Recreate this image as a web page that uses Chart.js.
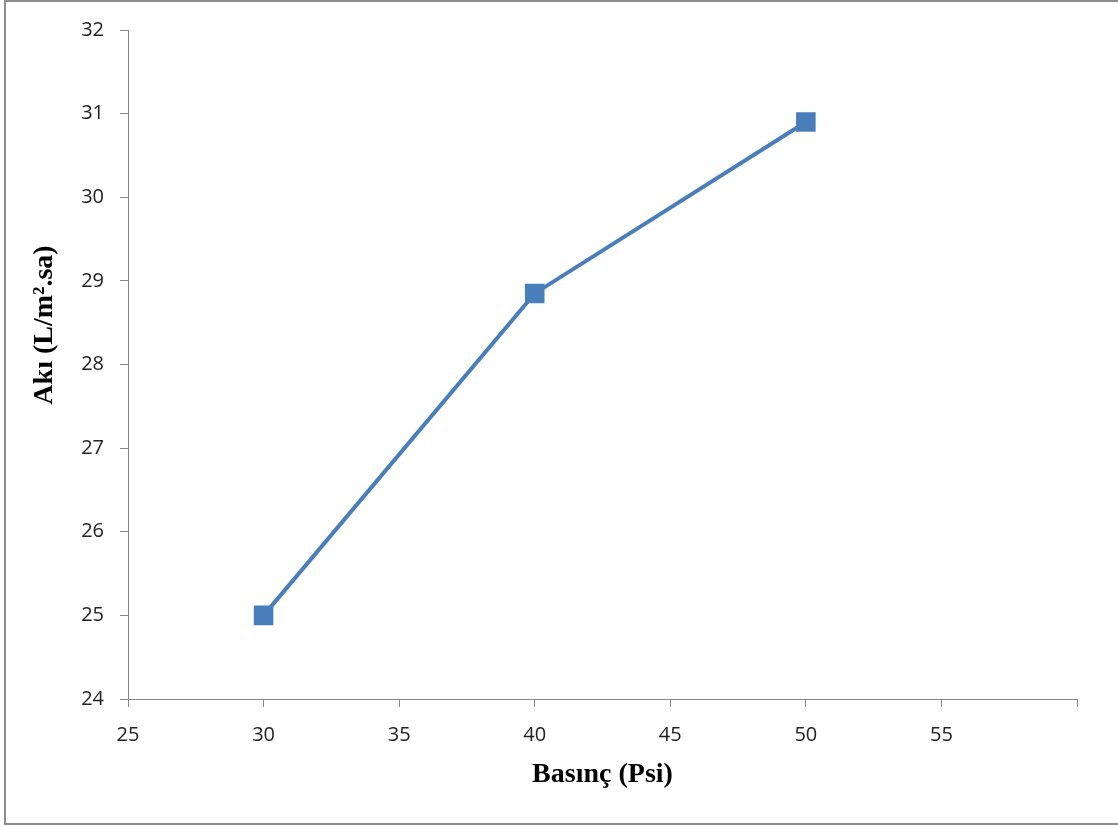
<!DOCTYPE html>
<html>
<head>
<meta charset="utf-8">
<script src="https://cdn.jsdelivr.net/npm/chart.js"></script>
<style>
  html, body { margin: 0; padding: 0; background: #fff; }
  #wrap { position: relative; width: 1118px; height: 827px; }
  #frame { position: absolute; left: 4px; top: 0; width: 1112px; height: 821px; border: 2px solid #8c8c8c; box-sizing: content-box; pointer-events: none; }
  canvas { position: absolute; left: 0; top: 0; }
</style>
</head>
<body>
<div id="wrap">
  <canvas id="c" width="1118" height="827"></canvas>
  <div id="frame"></div>
</div>
<script>
// pressure (psi) vs flux (L/m2.h)
const pressure = [30, 40, 50];
const flux = [25.0, 28.85, 30.9];
const xTitle = "Basınç (Psi)";
const yTitle = "Akı (L/m².sa)";

const lineColor = "#4a7ebb";

// axis titles drawn by hand so they sit where the original has them
const axisTitles = {
  id: "axisTitles",
  afterDraw(chart) {
    const { ctx, chartArea } = chart;
    ctx.save();
    ctx.fillStyle = "#000";
    ctx.font = "bold 28px 'Liberation Serif'";
    ctx.textAlign = "center";
    ctx.textBaseline = "middle";
    ctx.fillText(xTitle, (chartArea.left + chartArea.right) / 2, 775);
    ctx.translate(45, 325);
    ctx.rotate(-Math.PI / 2);
    ctx.fillText(yTitle, 0, 0);
    ctx.restore();
  }
};

new Chart(document.getElementById("c"), {
  type: "line",
  data: {
    datasets: [{
      data: pressure.map((x, i) => ({ x, y: flux[i] })),
      borderColor: lineColor,
      backgroundColor: lineColor,
      borderWidth: 4,
      pointStyle: "rect",
      pointRadius: 11,
      pointHoverRadius: 11,
      tension: 0
    }]
  },
  options: {
    responsive: false,
    animation: false,
    layout: { padding: { top: 30, right: 41, left: 0, bottom: 0 } },
    plugins: { legend: { display: false }, tooltip: { enabled: false } },
    scales: {
      x: {
        type: "linear",
        min: 25, max: 60,
        afterFit(s) { s.height = 128; },
        ticks: {
          stepSize: 5,
          padding: 16,
          color: "#222",
          font: { family: "'Open Sans'", size: 20 },
          callback: v => (v === 60 ? "" : v)
        },
        grid: { drawOnChartArea: false, tickLength: 8, color: "#888", tickColor: "#888" },
        border: { color: "#888", width: 1 }
      },
      y: {
        min: 24, max: 32,
        afterFit(s) { s.width = 128; },
        ticks: {
          stepSize: 1,
          padding: 16,
          color: "#222",
          font: { family: "'Open Sans'", size: 20 }
        },
        grid: { drawOnChartArea: false, tickLength: 8, color: "#888", tickColor: "#888" },
        border: { color: "#888", width: 1 }
      }
    }
  },
  plugins: [axisTitles]
});
</script>
</body>
</html>
